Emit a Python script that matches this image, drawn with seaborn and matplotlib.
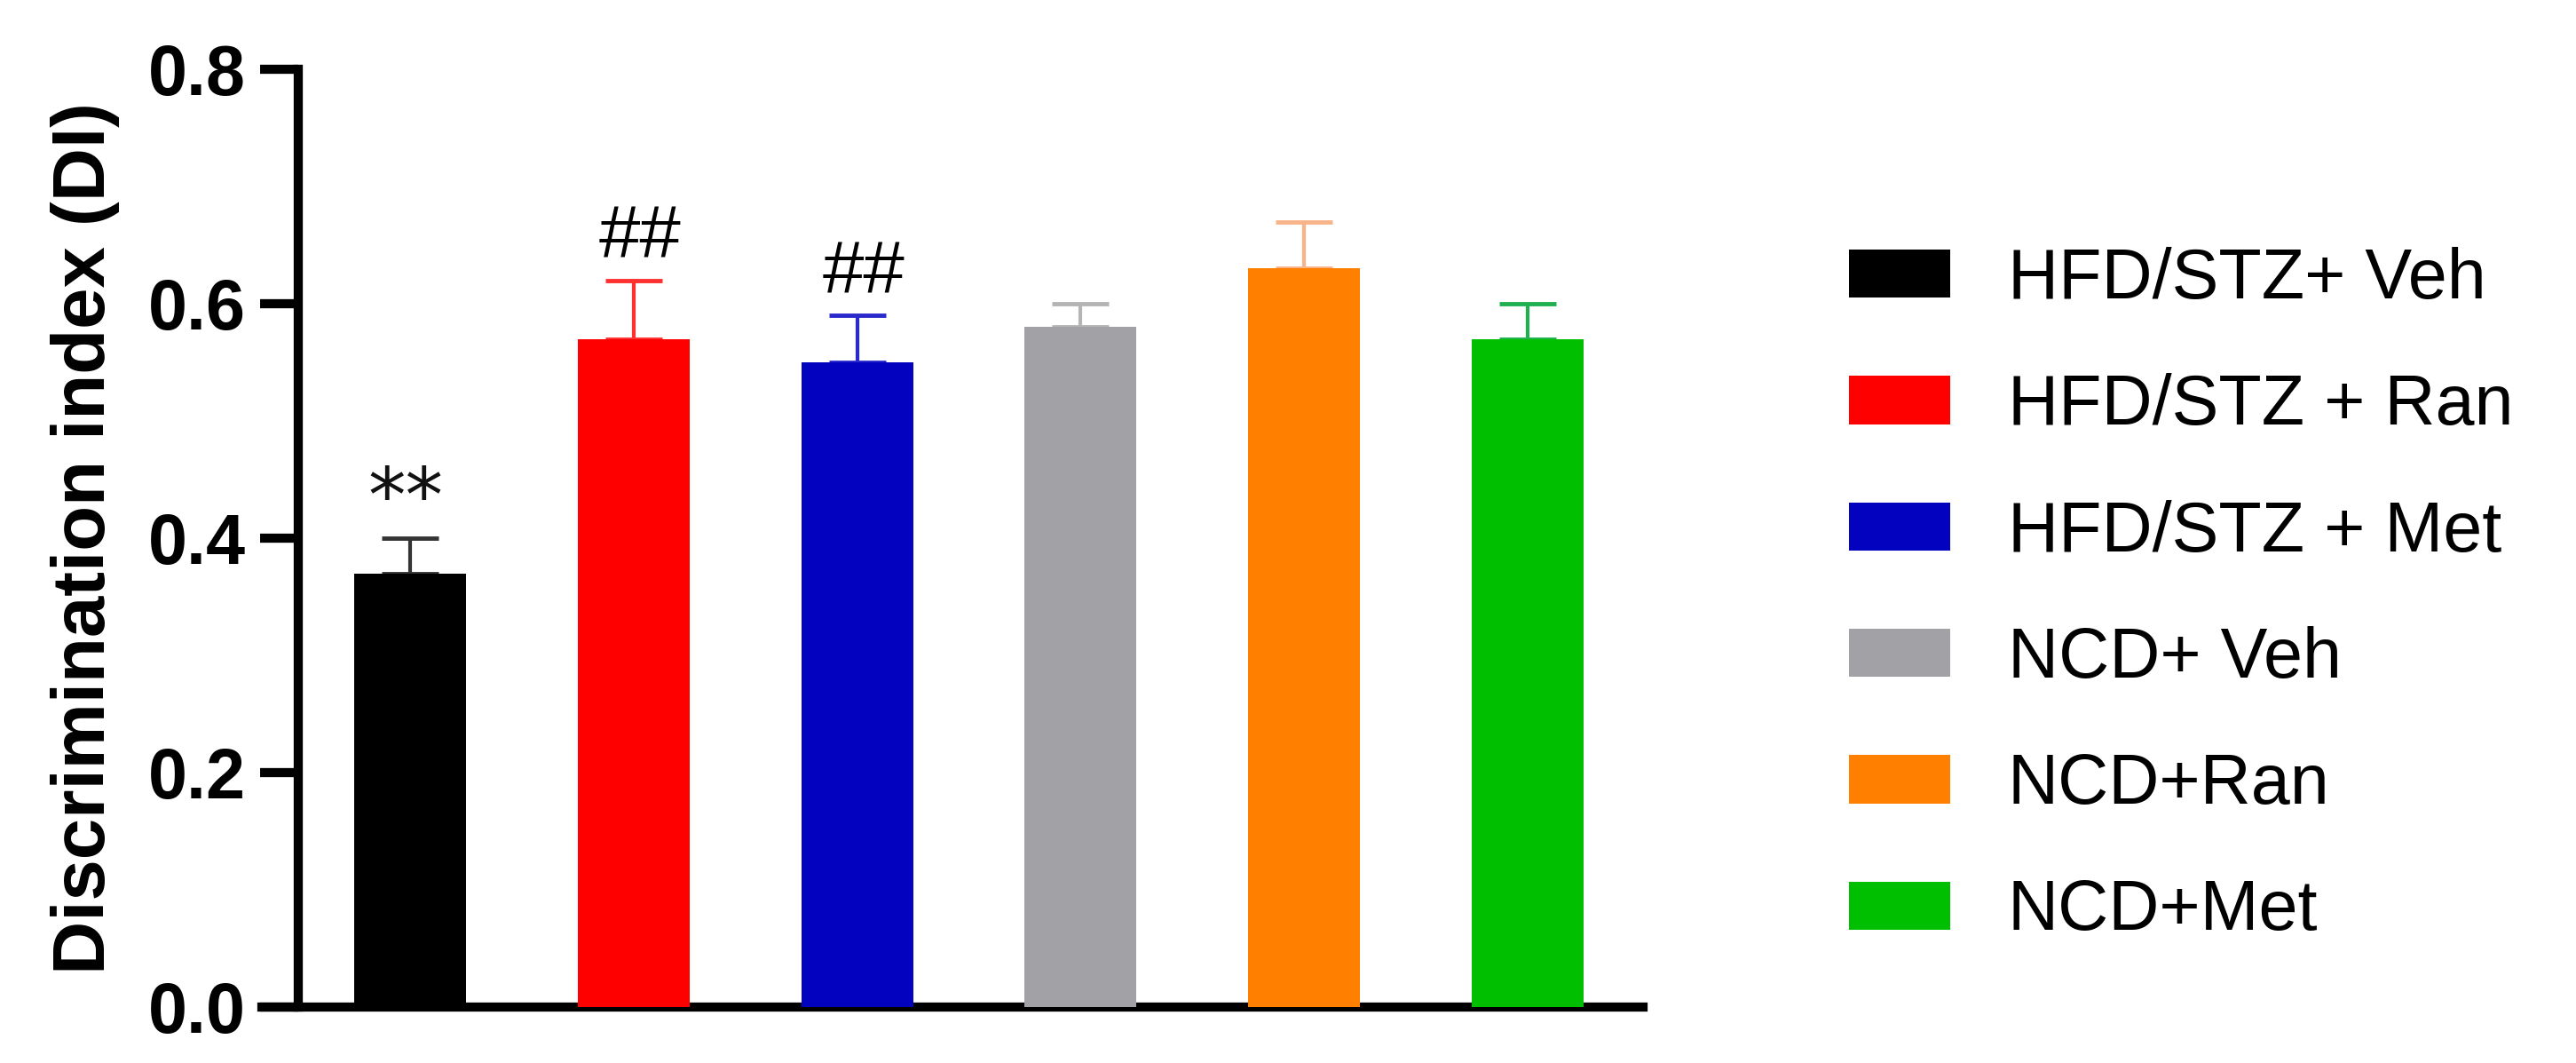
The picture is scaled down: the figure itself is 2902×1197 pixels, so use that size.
import matplotlib
matplotlib.use("Agg")
import matplotlib.pyplot as plt
import seaborn as sns
import pandas as pd
from matplotlib.patches import Patch

groups = ["HFD/STZ+ Veh", "HFD/STZ + Ran", "HFD/STZ + Met", "NCD+ Veh", "NCD+Ran", "NCD+Met"]
means = [0.37, 0.57, 0.55, 0.58, 0.63, 0.57]
errs = [0.03, 0.05, 0.04, 0.02, 0.04, 0.03]
marks = ["**", "##", "##", "", "", ""]
bar_colors = ["#000000", "#ff0000", "#0202bf", "#a2a1a6", "#ff8000", "#00bf00"]
err_colors = ["#333333", "#ff3030", "#2a2acc", "#b4b4b4", "#f8b488", "#20b050"]
yticks = [0.0, 0.2, 0.4, 0.6, 0.8]
ylabel = "Discrimination index (DI)"

sns.set_theme(style="white")
plt.rcParams["font.family"] = ["Liberation Sans", "DejaVu Sans"]
plt.rcParams["text.color"] = "black"
plt.rcParams["axes.labelcolor"] = "black"
plt.rcParams["ytick.color"] = "black"
plt.rcParams["ytick.labelcolor"] = "black"

W, H = 2902, 1197
fig = plt.figure(figsize=(W / 100, H / 100), dpi=100)
ax = fig.add_axes([295 / W, (H - 1134) / H, 1556 / W, 1056 / H])

df = pd.DataFrame({"group": groups, "value": means})
sns.barplot(data=df, x="group", y="value", hue="group", order=groups, hue_order=groups,
            palette=bar_colors, width=0.5, saturation=1, errorbar=None, legend=False,
            ax=ax, linewidth=0, zorder=3)

for i, (m, e) in enumerate(zip(means, errs)):
    ax.errorbar(i, m, yerr=[[0], [e]], fmt="none", ecolor=err_colors[i],
                elinewidth=3, capsize=23, capthick=3.5, zorder=2)
    if marks[i] == "**":
        ax.text(i - 0.02, m + e + 0.014, marks[i], ha="center", va="baseline",
                fontsize=61, family="DejaVu Sans", color="#111111", zorder=4)
    elif marks[i]:
        ax.text(i + 0.03, m + e + 0.019, marks[i], ha="center", va="baseline",
                fontsize=60, family="Liberation Sans", color="black", zorder=4)

ax.set_xlim(-0.663, 5.516)
ax.set_ylim(0, 0.8)
ax.spines["left"].set_position(("data", -0.5))
for s in ["top", "right"]:
    ax.spines[s].set_visible(False)
for s in ["left", "bottom"]:
    ax.spines[s].set_linewidth(7.4)
    ax.spines[s].set_color("black")

ax.set_xticks([])
ax.set_xlabel("")
ax.set_yticks(yticks)
ax.set_yticklabels([f"{t:.1f}" for t in yticks])
ax.tick_params(axis="y", which="major", direction="out", length=31, width=7.4,
               color="black", labelcolor="black", pad=11.5, left=True)
for lab in ax.get_yticklabels():
    lab.set_fontfamily("Liberation Sans")
    lab.set_fontweight("bold")
    lab.set_fontsize(57)

ax.set_ylabel(ylabel, fontsize=60, fontweight="bold", family="Liberation Sans", color="black")
ax.yaxis.set_label_coords((135 - 295) / 1556, 0.5)

handles = [Patch(facecolor=c, edgecolor="none") for c in bar_colors]
fig.legend(handles, groups, loc="upper left",
           bbox_to_anchor=(2083 / W, 1 - 278 / H), frameon=False,
           prop={"family": "Liberation Sans", "size": 57}, labelcolor="black",
           handlelength=1.44, handleheight=0.68, handletextpad=0.82,
           labelspacing=0.85, borderpad=0, borderaxespad=0)

fig.savefig("out.png", dpi=100)
